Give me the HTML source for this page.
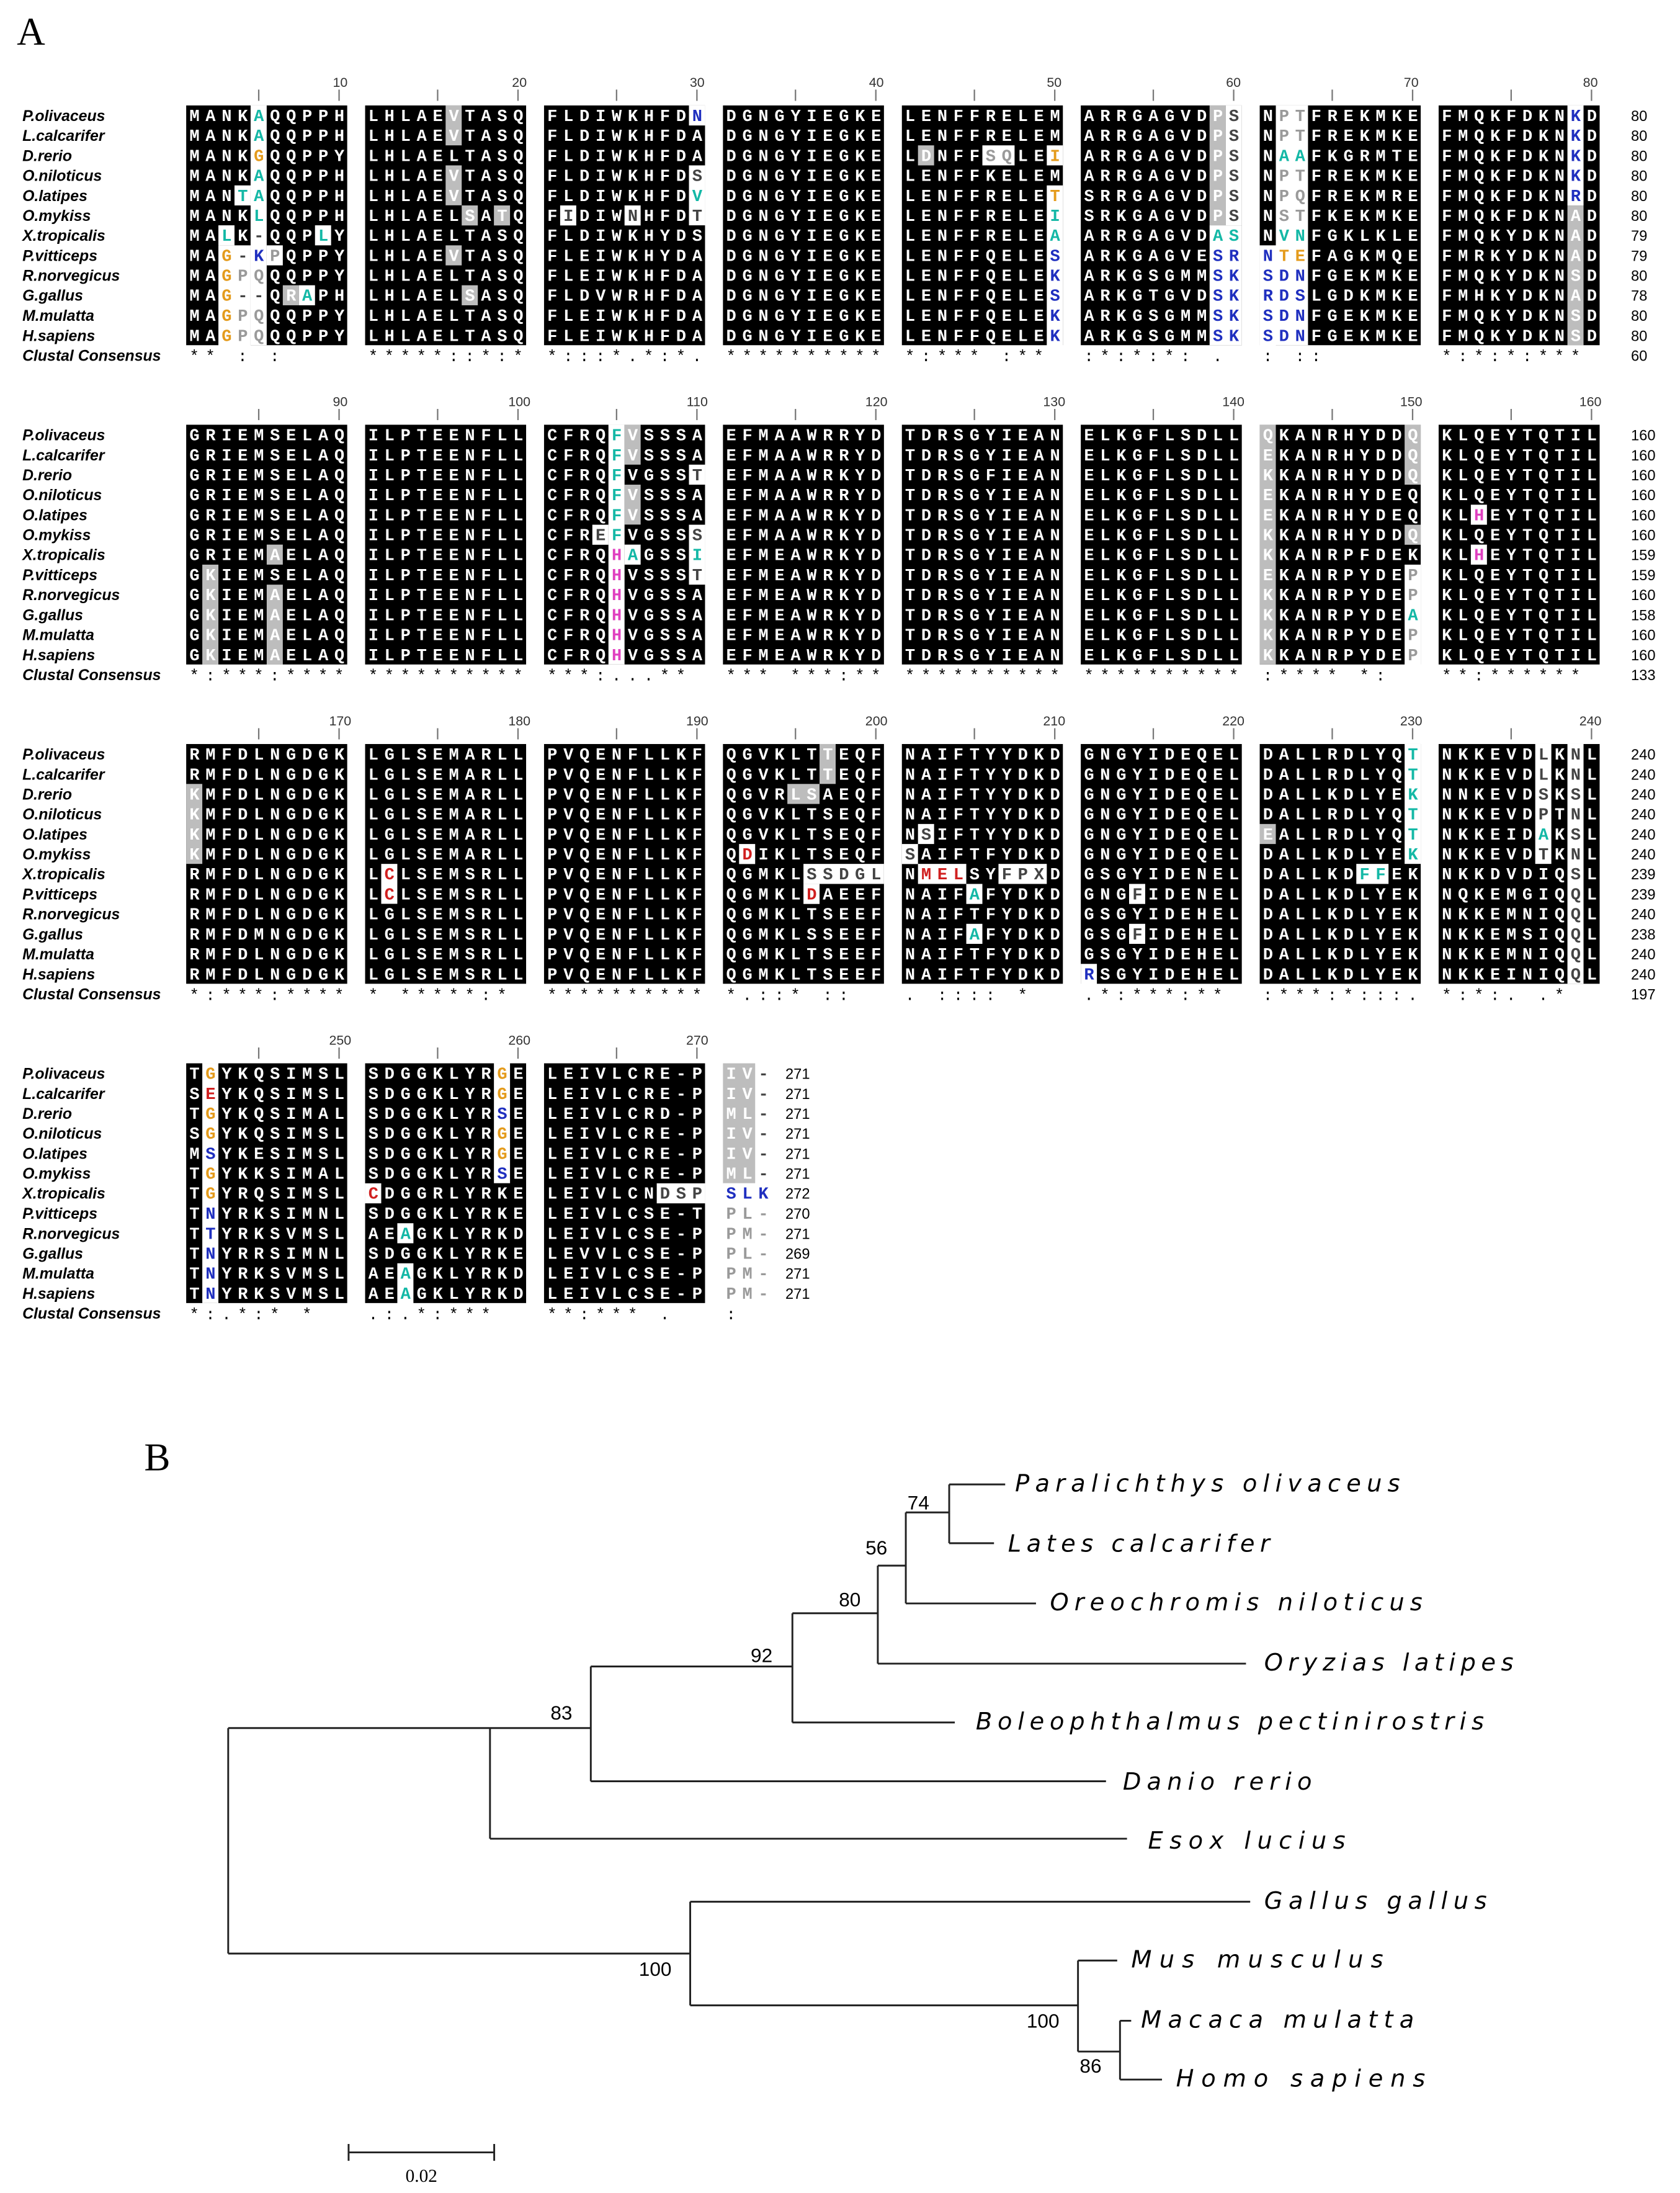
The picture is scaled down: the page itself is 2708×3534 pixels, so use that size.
<!DOCTYPE html>
<html><head><meta charset="utf-8"><style>
html,body{margin:0;padding:0;background:#fff}
svg{display:block}
.n{font:italic bold 11px "Liberation Sans",sans-serif;fill:#000}
.s{font:bold 12px "Liberation Mono",monospace;letter-spacing:4.3px;fill:#fff;white-space:pre}
.c{font:11.5px "Liberation Mono",monospace;letter-spacing:4.6px;fill:#000;white-space:pre}
.num{font:10.5px "Liberation Sans",sans-serif;fill:#000}
.rl{font:9.5px "Liberation Sans",sans-serif;fill:#333;text-anchor:middle}
.t{fill:#14b8a6}.o{fill:#e49b1c}.b{fill:#1f2fbf}.g{fill:#9a9a9a}.m{fill:#e040c0}.r{fill:#d02020}.d{fill:#444}
.tx{font:italic 17px "DejaVu Sans",sans-serif;fill:#000}
.bs{font:14px "Liberation Sans",sans-serif;fill:#000;text-anchor:middle}
</style></head><body>
<svg xmlns="http://www.w3.org/2000/svg" width="2708" height="3534" viewBox="0 0 1200 1566" preserveAspectRatio="none">
<rect width="1200" height="1566" fill="#fff"/>
<text x="12" y="32" style="font:28px 'Liberation Serif',serif">A</text>
<text x="103" y="1050" style="font:28px 'Liberation Serif',serif">B</text>

<g fill="#000">
<rect x="133" y="75.3" width="115" height="171.2"/><rect x="260.8" y="75.3" width="115" height="171.2"/><rect x="388.6" y="75.3" width="115" height="171.2"/><rect x="516.4" y="75.3" width="115" height="171.2"/><rect x="644.2" y="75.3" width="115" height="171.2"/><rect x="772" y="75.3" width="115" height="171.2"/><rect x="899.8" y="75.3" width="115" height="171.2"/><rect x="1027.6" y="75.3" width="115" height="171.2"/>
<rect x="133" y="303.3" width="115" height="171.2"/><rect x="260.8" y="303.3" width="115" height="171.2"/><rect x="388.6" y="303.3" width="115" height="171.2"/><rect x="516.4" y="303.3" width="115" height="171.2"/><rect x="644.2" y="303.3" width="115" height="171.2"/><rect x="772" y="303.3" width="115" height="171.2"/><rect x="899.8" y="303.3" width="115" height="171.2"/><rect x="1027.6" y="303.3" width="115" height="171.2"/>
<rect x="133" y="531.3" width="115" height="171.2"/><rect x="260.8" y="531.3" width="115" height="171.2"/><rect x="388.6" y="531.3" width="115" height="171.2"/><rect x="516.4" y="531.3" width="115" height="171.2"/><rect x="644.2" y="531.3" width="115" height="171.2"/><rect x="772" y="531.3" width="115" height="171.2"/><rect x="899.8" y="531.3" width="115" height="171.2"/><rect x="1027.6" y="531.3" width="115" height="171.2"/>
<rect x="133" y="759.3" width="115" height="171.2"/><rect x="260.8" y="759.3" width="115" height="171.2"/><rect x="388.6" y="759.3" width="115" height="171.2"/>
</g>
<g fill="#bdbdbd">
<rect x="202" y="203.7" width="11.5" height="14.3"/>
<rect x="318.3" y="75.3" width="11.5" height="28.5"/><rect x="318.3" y="118.1" width="11.5" height="28.5"/><rect x="318.3" y="175.2" width="11.5" height="14.3"/>
<rect x="329.8" y="146.7" width="11.5" height="14.3"/><rect x="352.8" y="146.7" width="11.5" height="14.3"/><rect x="329.8" y="203.7" width="11.5" height="14.3"/>
<rect x="655.7" y="103.8" width="11.5" height="14.3"/>
<rect x="864" y="75.3" width="11.5" height="85.6"/>
<rect x="1119.6" y="146.7" width="11.5" height="99.9"/>
<rect x="144.5" y="403.2" width="11.5" height="71.4"/><rect x="190.5" y="388.9" width="11.5" height="14.3"/><rect x="190.5" y="417.5" width="11.5" height="57.1"/>
<rect x="446.1" y="303.3" width="11.5" height="28.5"/><rect x="446.1" y="346.1" width="11.5" height="28.5"/>
<rect x="899.8" y="303.3" width="11.5" height="171.2"/>
<rect x="1003.3" y="303.3" width="11.5" height="42.8"/><rect x="1003.3" y="374.7" width="11.5" height="14.3"/>
<rect x="133" y="559.8" width="11.5" height="57.1"/>
<rect x="585.4" y="531.3" width="11.5" height="28.5"/><rect x="562.4" y="559.8" width="23" height="14.3"/>
<rect x="899.8" y="588.4" width="11.5" height="14.3"/>
<rect x="516.4" y="759.3" width="23" height="85.6"/>
</g>
<g fill="#fff">
<rect x="179" y="75.3" width="11.5" height="171.2"/><rect x="156" y="175.2" width="23" height="71.4"/>
<rect x="156" y="160.9" width="11.5" height="14.3"/><rect x="225" y="160.9" width="11.5" height="14.3"/>
<rect x="167.5" y="132.4" width="11.5" height="14.3"/><rect x="190.5" y="175.2" width="11.5" height="14.3"/><rect x="213.5" y="203.7" width="11.5" height="14.3"/>
<rect x="492.1" y="75.3" width="11.5" height="14.3"/><rect x="492.1" y="118.1" width="11.5" height="42.8"/>
<rect x="400.1" y="146.7" width="11.5" height="14.3"/><rect x="446.1" y="146.7" width="11.5" height="14.3"/>
<rect x="747.7" y="103.8" width="11.5" height="14.3"/><rect x="747.7" y="132.4" width="11.5" height="114.2"/><rect x="701.7" y="103.8" width="23" height="14.3"/>
<rect x="875.5" y="75.3" width="11.5" height="85.6"/><rect x="864" y="160.9" width="23" height="85.6"/>
<rect x="911.3" y="75.3" width="23" height="171.2"/><rect x="899.8" y="175.2" width="11.5" height="71.4"/>
<rect x="1119.6" y="75.3" width="11.5" height="71.4"/>
<rect x="434.6" y="303.3" width="11.5" height="171.2"/><rect x="423.1" y="374.7" width="11.5" height="14.3"/>
<rect x="492.1" y="331.8" width="11.5" height="14.3"/><rect x="492.1" y="374.7" width="11.5" height="42.8"/><rect x="446.1" y="388.9" width="11.5" height="14.3"/>
<rect x="1003.3" y="403.2" width="11.5" height="71.4"/>
<rect x="1050.6" y="360.4" width="11.5" height="14.3"/><rect x="1050.6" y="388.9" width="11.5" height="14.3"/>
<rect x="272.3" y="616.9" width="11.5" height="28.5"/>
<rect x="527.9" y="602.7" width="11.5" height="14.3"/><rect x="573.9" y="616.9" width="57.5" height="14.3"/><rect x="573.9" y="631.2" width="11.5" height="14.3"/>
<rect x="655.7" y="616.9" width="34.5" height="14.3"/><rect x="713.2" y="616.9" width="34.5" height="14.3"/>
<rect x="690.2" y="631.2" width="11.5" height="14.3"/><rect x="690.2" y="659.7" width="11.5" height="14.3"/>
<rect x="655.7" y="588.4" width="11.5" height="14.3"/><rect x="644.2" y="602.7" width="11.5" height="14.3"/>
<rect x="772" y="688.3" width="11.5" height="14.3"/><rect x="806.5" y="631.2" width="11.5" height="14.3"/><rect x="806.5" y="659.7" width="11.5" height="14.3"/>
<rect x="1003.3" y="531.3" width="11.5" height="85.6"/><rect x="968.8" y="616.9" width="23" height="14.3"/>
<rect x="1119.6" y="531.3" width="11.5" height="171.2"/><rect x="1096.6" y="531.3" width="11.5" height="85.6"/>
<rect x="144.5" y="759.3" width="11.5" height="171.2"/>
<rect x="352.8" y="759.3" width="11.5" height="85.6"/><rect x="260.8" y="845" width="11.5" height="14.3"/>
<rect x="283.8" y="873.5" width="11.5" height="14.3"/><rect x="283.8" y="902.1" width="11.5" height="28.5"/>
<rect x="469.1" y="845" width="34.5" height="14.3"/>
</g>

<g stroke="#777" stroke-width="1">
<path d="M184.8 64V72M242.2 64V72M312.6 64V72M370 64V72M440.4 64V72M497.8 64V72M568.2 64V72M625.6 64V72M696 64V72M753.4 64V72M823.8 64V72M881.2 64V72M951.6 64V72M1009 64V72M1079.4 64V72M1136.8 64V72"/>
<path d="M184.8 292V300M242.2 292V300M312.6 292V300M370 292V300M440.4 292V300M497.8 292V300M568.2 292V300M625.6 292V300M696 292V300M753.4 292V300M823.8 292V300M881.2 292V300M951.6 292V300M1009 292V300M1079.4 292V300M1136.8 292V300"/>
<path d="M184.8 520V528M242.2 520V528M312.6 520V528M370 520V528M440.4 520V528M497.8 520V528M568.2 520V528M625.6 520V528M696 520V528M753.4 520V528M823.8 520V528M881.2 520V528M951.6 520V528M1009 520V528M1079.4 520V528M1136.8 520V528"/>
<path d="M184.8 748V756M242.2 748V756M312.6 748V756M370 748V756M440.4 748V756M497.8 748V756"/>
</g>
<g class="rl">
<text x="243" y="62" class="rl">10</text><text x="371" y="62" class="rl">20</text><text x="498" y="62" class="rl">30</text><text x="626" y="62" class="rl">40</text><text x="753" y="62" class="rl">50</text><text x="881" y="62" class="rl">60</text><text x="1008" y="62" class="rl">70</text><text x="1136" y="62" class="rl">80</text>
<text x="243" y="290" class="rl">90</text><text x="371" y="290" class="rl">100</text><text x="498" y="290" class="rl">110</text><text x="626" y="290" class="rl">120</text><text x="753" y="290" class="rl">130</text><text x="881" y="290" class="rl">140</text><text x="1008" y="290" class="rl">150</text><text x="1136" y="290" class="rl">160</text>
<text x="243" y="518" class="rl">170</text><text x="371" y="518" class="rl">180</text><text x="498" y="518" class="rl">190</text><text x="626" y="518" class="rl">200</text><text x="753" y="518" class="rl">210</text><text x="881" y="518" class="rl">220</text><text x="1008" y="518" class="rl">230</text><text x="1136" y="518" class="rl">240</text>
<text x="243" y="746" class="rl">250</text><text x="371" y="746" class="rl">260</text><text x="498" y="746" class="rl">270</text>
</g>

<g class="n">
<text x="16" y="86.4">P.olivaceus</text><text x="16" y="100.7">L.calcarifer</text><text x="16" y="114.9">D.rerio</text><text x="16" y="129.2">O.niloticus</text><text x="16" y="143.5">O.latipes</text><text x="16" y="157.8">O.mykiss</text><text x="16" y="172">X.tropicalis</text><text x="16" y="186.3">P.vitticeps</text><text x="16" y="200.6">R.norvegicus</text><text x="16" y="214.8">G.gallus</text><text x="16" y="229.1">M.mulatta</text><text x="16" y="243.4">H.sapiens</text><text x="16" y="257.6">Clustal Consensus</text>
<text x="16" y="314.4">P.olivaceus</text><text x="16" y="328.7">L.calcarifer</text><text x="16" y="342.9">D.rerio</text><text x="16" y="357.2">O.niloticus</text><text x="16" y="371.5">O.latipes</text><text x="16" y="385.8">O.mykiss</text><text x="16" y="400">X.tropicalis</text><text x="16" y="414.3">P.vitticeps</text><text x="16" y="428.6">R.norvegicus</text><text x="16" y="442.8">G.gallus</text><text x="16" y="457.1">M.mulatta</text><text x="16" y="471.4">H.sapiens</text><text x="16" y="485.6">Clustal Consensus</text>
<text x="16" y="542.4">P.olivaceus</text><text x="16" y="556.7">L.calcarifer</text><text x="16" y="570.9">D.rerio</text><text x="16" y="585.2">O.niloticus</text><text x="16" y="599.5">O.latipes</text><text x="16" y="613.8">O.mykiss</text><text x="16" y="628">X.tropicalis</text><text x="16" y="642.3">P.vitticeps</text><text x="16" y="656.6">R.norvegicus</text><text x="16" y="670.8">G.gallus</text><text x="16" y="685.1">M.mulatta</text><text x="16" y="699.4">H.sapiens</text><text x="16" y="713.6">Clustal Consensus</text>
<text x="16" y="770.4">P.olivaceus</text><text x="16" y="784.7">L.calcarifer</text><text x="16" y="798.9">D.rerio</text><text x="16" y="813.2">O.niloticus</text><text x="16" y="827.5">O.latipes</text><text x="16" y="841.8">O.mykiss</text><text x="16" y="856">X.tropicalis</text><text x="16" y="870.3">P.vitticeps</text><text x="16" y="884.6">R.norvegicus</text><text x="16" y="898.8">G.gallus</text><text x="16" y="913.1">M.mulatta</text><text x="16" y="927.4">H.sapiens</text><text x="16" y="941.6">Clustal Consensus</text>
</g>

<g class="s">
<text x="135.3" y="86.4">MANK<tspan class="t">A</tspan>QQPPH</text><text x="263.1" y="86.4">LHLAEVTASQ</text><text x="390.9" y="86.4">FLDIWKHFD<tspan class="b">N</tspan></text><text x="518.7" y="86.4">DGNGYIEGKE</text><text x="646.5" y="86.4">LENFFRELEM</text><text x="774.3" y="86.4">ARRGAGVDP<tspan class="d">S</tspan></text><text x="902.1" y="86.4">N<tspan class="g">PT</tspan>FREKMKE</text><text x="1029.9" y="86.4">FMQKFDKN<tspan class="b">K</tspan>D</text>
<text x="135.3" y="100.7">MANK<tspan class="t">A</tspan>QQPPH</text><text x="263.1" y="100.7">LHLAEVTASQ</text><text x="390.9" y="100.7">FLDIWKHFDA</text><text x="518.7" y="100.7">DGNGYIEGKE</text><text x="646.5" y="100.7">LENFFRELEM</text><text x="774.3" y="100.7">ARRGAGVDP<tspan class="d">S</tspan></text><text x="902.1" y="100.7">N<tspan class="g">PT</tspan>FREKMKE</text><text x="1029.9" y="100.7">FMQKFDKN<tspan class="b">K</tspan>D</text>
<text x="135.3" y="114.9">MANK<tspan class="o">G</tspan>QQPPY</text><text x="263.1" y="114.9">LHLAELTASQ</text><text x="390.9" y="114.9">FLDIWKHFDA</text><text x="518.7" y="114.9">DGNGYIEGKE</text><text x="646.5" y="114.9">LDNFF<tspan class="g">SQ</tspan>LE<tspan class="o">I</tspan></text><text x="774.3" y="114.9">ARRGAGVDP<tspan class="d">S</tspan></text><text x="902.1" y="114.9">N<tspan class="t">AA</tspan>FKGRMTE</text><text x="1029.9" y="114.9">FMQKFDKN<tspan class="b">K</tspan>D</text>
<text x="135.3" y="129.2">MANK<tspan class="t">A</tspan>QQPPH</text><text x="263.1" y="129.2">LHLAEVTASQ</text><text x="390.9" y="129.2">FLDIWKHFD<tspan class="d">S</tspan></text><text x="518.7" y="129.2">DGNGYIEGKE</text><text x="646.5" y="129.2">LENFFKELEM</text><text x="774.3" y="129.2">ARRGAGVDP<tspan class="d">S</tspan></text><text x="902.1" y="129.2">N<tspan class="g">PT</tspan>FREKMKE</text><text x="1029.9" y="129.2">FMQKFDKN<tspan class="b">K</tspan>D</text>
<text x="135.3" y="143.5">MAN<tspan class="t">TA</tspan>QQPPH</text><text x="263.1" y="143.5">LHLAEVTASQ</text><text x="390.9" y="143.5">FLDIWKHFD<tspan class="t">V</tspan></text><text x="518.7" y="143.5">DGNGYIEGKE</text><text x="646.5" y="143.5">LENFFRELE<tspan class="o">T</tspan></text><text x="774.3" y="143.5">SRRGAGVDP<tspan class="d">S</tspan></text><text x="902.1" y="143.5">N<tspan class="g">PQ</tspan>FREKMRE</text><text x="1029.9" y="143.5">FMQKFDKN<tspan class="b">R</tspan>D</text>
<text x="135.3" y="157.8">MANK<tspan class="t">L</tspan>QQPPH</text><text x="263.1" y="157.8">LHLAELSATQ</text><text x="390.9" y="157.8">F<tspan class="d">I</tspan>DIW<tspan class="d">N</tspan>HFD<tspan class="d">T</tspan></text><text x="518.7" y="157.8">DGNGYIEGKE</text><text x="646.5" y="157.8">LENFFRELE<tspan class="t">I</tspan></text><text x="774.3" y="157.8">SRKGAGVDP<tspan class="d">S</tspan></text><text x="902.1" y="157.8">N<tspan class="g">ST</tspan>FKEKMKE</text><text x="1029.9" y="157.8">FMQKFDKNAD</text>
<text x="135.3" y="172">MA<tspan class="t">L</tspan>K<tspan class="d">-</tspan>QQP<tspan class="t">L</tspan>Y</text><text x="263.1" y="172">LHLAELTASQ</text><text x="390.9" y="172">FLDIWKHYDS</text><text x="518.7" y="172">DGNGYIEGKE</text><text x="646.5" y="172">LENFFRELE<tspan class="t">A</tspan></text><text x="774.3" y="172">ARRGAGVD<tspan class="t">AS</tspan></text><text x="902.1" y="172">N<tspan class="t">VN</tspan>FGKLKLE</text><text x="1029.9" y="172">FMQKYDKNAD</text>
<text x="135.3" y="186.3">MA<tspan class="o">G</tspan><tspan class="d">-</tspan><tspan class="b">K</tspan><tspan class="g">P</tspan>QPPY</text><text x="263.1" y="186.3">LHLAEVTASQ</text><text x="390.9" y="186.3">FLEIWKHYDA</text><text x="518.7" y="186.3">DGNGYIEGKE</text><text x="646.5" y="186.3">LENFFQELE<tspan class="b">S</tspan></text><text x="774.3" y="186.3">ARKGAGVE<tspan class="b">SR</tspan></text><text x="902.1" y="186.3"><tspan class="b">N</tspan><tspan class="o">TE</tspan>FAGKMQE</text><text x="1029.9" y="186.3">FMRKYDKNAD</text>
<text x="135.3" y="200.6">MA<tspan class="o">G</tspan><tspan class="g">PQ</tspan>QQPPY</text><text x="263.1" y="200.6">LHLAELTASQ</text><text x="390.9" y="200.6">FLEIWKHFDA</text><text x="518.7" y="200.6">DGNGYIEGKE</text><text x="646.5" y="200.6">LENFFQELE<tspan class="b">K</tspan></text><text x="774.3" y="200.6">ARKGSGMM<tspan class="b">SK</tspan></text><text x="902.1" y="200.6"><tspan class="b">SDN</tspan>FGEKMKE</text><text x="1029.9" y="200.6">FMQKYDKNSD</text>
<text x="135.3" y="214.8">MA<tspan class="o">G</tspan><tspan class="d">--</tspan>QR<tspan class="t">A</tspan>PH</text><text x="263.1" y="214.8">LHLAELSASQ</text><text x="390.9" y="214.8">FLDVWRHFDA</text><text x="518.7" y="214.8">DGNGYIEGKE</text><text x="646.5" y="214.8">LENFFQELE<tspan class="b">S</tspan></text><text x="774.3" y="214.8">ARKGTGVD<tspan class="b">SK</tspan></text><text x="902.1" y="214.8"><tspan class="b">RDS</tspan>LGDKMKE</text><text x="1029.9" y="214.8">FMHKYDKNAD</text>
<text x="135.3" y="229.1">MA<tspan class="o">G</tspan><tspan class="g">PQ</tspan>QQPPY</text><text x="263.1" y="229.1">LHLAELTASQ</text><text x="390.9" y="229.1">FLEIWKHFDA</text><text x="518.7" y="229.1">DGNGYIEGKE</text><text x="646.5" y="229.1">LENFFQELE<tspan class="b">K</tspan></text><text x="774.3" y="229.1">ARKGSGMM<tspan class="b">SK</tspan></text><text x="902.1" y="229.1"><tspan class="b">SDN</tspan>FGEKMKE</text><text x="1029.9" y="229.1">FMQKYDKNSD</text>
<text x="135.3" y="243.4">MA<tspan class="o">G</tspan><tspan class="g">PQ</tspan>QQPPY</text><text x="263.1" y="243.4">LHLAELTASQ</text><text x="390.9" y="243.4">FLEIWKHFDA</text><text x="518.7" y="243.4">DGNGYIEGKE</text><text x="646.5" y="243.4">LENFFQELE<tspan class="b">K</tspan></text><text x="774.3" y="243.4">ARKGSGMM<tspan class="b">SK</tspan></text><text x="902.1" y="243.4"><tspan class="b">SDN</tspan>FGEKMKE</text><text x="1029.9" y="243.4">FMQKYDKNSD</text>

<text x="135.3" y="314.4">GRIEMSELAQ</text><text x="263.1" y="314.4">ILPTEENFLL</text><text x="390.9" y="314.4">CFRQ<tspan class="t">F</tspan>VSSSA</text><text x="518.7" y="314.4">EFMAAWRRYD</text><text x="646.5" y="314.4">TDRSGYIEAN</text><text x="774.3" y="314.4">ELKGFLSDLL</text><text x="902.1" y="314.4">QKANRHYDDQ</text><text x="1029.9" y="314.4">KLQEYTQTIL</text>
<text x="135.3" y="328.7">GRIEMSELAQ</text><text x="263.1" y="328.7">ILPTEENFLL</text><text x="390.9" y="328.7">CFRQ<tspan class="t">F</tspan>VSSSA</text><text x="518.7" y="328.7">EFMAAWRRYD</text><text x="646.5" y="328.7">TDRSGYIEAN</text><text x="774.3" y="328.7">ELKGFLSDLL</text><text x="902.1" y="328.7">EKANRHYDDQ</text><text x="1029.9" y="328.7">KLQEYTQTIL</text>
<text x="135.3" y="342.9">GRIEMSELAQ</text><text x="263.1" y="342.9">ILPTEENFLL</text><text x="390.9" y="342.9">CFRQ<tspan class="t">F</tspan>VGSS<tspan class="d">T</tspan></text><text x="518.7" y="342.9">EFMAAWRKYD</text><text x="646.5" y="342.9">TDRSGFIEAN</text><text x="774.3" y="342.9">ELKGFLSDLL</text><text x="902.1" y="342.9">KKANRHYDDQ</text><text x="1029.9" y="342.9">KLQEYTQTIL</text>
<text x="135.3" y="357.2">GRIEMSELAQ</text><text x="263.1" y="357.2">ILPTEENFLL</text><text x="390.9" y="357.2">CFRQ<tspan class="t">F</tspan>VSSSA</text><text x="518.7" y="357.2">EFMAAWRRYD</text><text x="646.5" y="357.2">TDRSGYIEAN</text><text x="774.3" y="357.2">ELKGFLSDLL</text><text x="902.1" y="357.2">EKANRHYDEQ</text><text x="1029.9" y="357.2">KLQEYTQTIL</text>
<text x="135.3" y="371.5">GRIEMSELAQ</text><text x="263.1" y="371.5">ILPTEENFLL</text><text x="390.9" y="371.5">CFRQ<tspan class="t">F</tspan>VSSSA</text><text x="518.7" y="371.5">EFMAAWRKYD</text><text x="646.5" y="371.5">TDRSGYIEAN</text><text x="774.3" y="371.5">ELKGFLSDLL</text><text x="902.1" y="371.5">EKANRHYDEQ</text><text x="1029.9" y="371.5">KL<tspan class="m">H</tspan>EYTQTIL</text>
<text x="135.3" y="385.8">GRIEMSELAQ</text><text x="263.1" y="385.8">ILPTEENFLL</text><text x="390.9" y="385.8">CFR<tspan class="d">E</tspan><tspan class="t">F</tspan>VGSS<tspan class="d">S</tspan></text><text x="518.7" y="385.8">EFMAAWRKYD</text><text x="646.5" y="385.8">TDRSGYIEAN</text><text x="774.3" y="385.8">ELKGFLSDLL</text><text x="902.1" y="385.8">KKANRHYDDQ</text><text x="1029.9" y="385.8">KLQEYTQTIL</text>
<text x="135.3" y="400">GRIEMAELAQ</text><text x="263.1" y="400">ILPTEENFLL</text><text x="390.9" y="400">CFRQ<tspan class="m">H</tspan><tspan class="t">A</tspan>GSS<tspan class="t">I</tspan></text><text x="518.7" y="400">EFMEAWRKYD</text><text x="646.5" y="400">TDRSGYIEAN</text><text x="774.3" y="400">ELKGFLSDLL</text><text x="902.1" y="400">KKANRPFDEK</text><text x="1029.9" y="400">KL<tspan class="m">H</tspan>EYTQTIL</text>
<text x="135.3" y="414.3">GKIEMSELAQ</text><text x="263.1" y="414.3">ILPTEENFLL</text><text x="390.9" y="414.3">CFRQ<tspan class="m">H</tspan>VSSS<tspan class="d">T</tspan></text><text x="518.7" y="414.3">EFMEAWRKYD</text><text x="646.5" y="414.3">TDRSGYIEAN</text><text x="774.3" y="414.3">ELKGFLSDLL</text><text x="902.1" y="414.3">EKANRPYDE<tspan class="g">P</tspan></text><text x="1029.9" y="414.3">KLQEYTQTIL</text>
<text x="135.3" y="428.6">GKIEMAELAQ</text><text x="263.1" y="428.6">ILPTEENFLL</text><text x="390.9" y="428.6">CFRQ<tspan class="m">H</tspan>VGSSA</text><text x="518.7" y="428.6">EFMEAWRKYD</text><text x="646.5" y="428.6">TDRSGYIEAN</text><text x="774.3" y="428.6">ELKGFLSDLL</text><text x="902.1" y="428.6">KKANRPYDE<tspan class="g">P</tspan></text><text x="1029.9" y="428.6">KLQEYTQTIL</text>
<text x="135.3" y="442.8">GKIEMAELAQ</text><text x="263.1" y="442.8">ILPTEENFLL</text><text x="390.9" y="442.8">CFRQ<tspan class="m">H</tspan>VGSSA</text><text x="518.7" y="442.8">EFMEAWRKYD</text><text x="646.5" y="442.8">TDRSGYIEAN</text><text x="774.3" y="442.8">ELKGFLSDLL</text><text x="902.1" y="442.8">KKANRPYDE<tspan class="t">A</tspan></text><text x="1029.9" y="442.8">KLQEYTQTIL</text>
<text x="135.3" y="457.1">GKIEMAELAQ</text><text x="263.1" y="457.1">ILPTEENFLL</text><text x="390.9" y="457.1">CFRQ<tspan class="m">H</tspan>VGSSA</text><text x="518.7" y="457.1">EFMEAWRKYD</text><text x="646.5" y="457.1">TDRSGYIEAN</text><text x="774.3" y="457.1">ELKGFLSDLL</text><text x="902.1" y="457.1">KKANRPYDE<tspan class="g">P</tspan></text><text x="1029.9" y="457.1">KLQEYTQTIL</text>
<text x="135.3" y="471.4">GKIEMAELAQ</text><text x="263.1" y="471.4">ILPTEENFLL</text><text x="390.9" y="471.4">CFRQ<tspan class="m">H</tspan>VGSSA</text><text x="518.7" y="471.4">EFMEAWRKYD</text><text x="646.5" y="471.4">TDRSGYIEAN</text><text x="774.3" y="471.4">ELKGFLSDLL</text><text x="902.1" y="471.4">KKANRPYDE<tspan class="g">P</tspan></text><text x="1029.9" y="471.4">KLQEYTQTIL</text>

<text x="135.3" y="542.4">RMFDLNGDGK</text><text x="263.1" y="542.4">LGLSEMARLL</text><text x="390.9" y="542.4">PVQENFLLKF</text><text x="518.7" y="542.4">QGVKLTTEQF</text><text x="646.5" y="542.4">NAIFTYYDKD</text><text x="774.3" y="542.4">GNGYIDEQEL</text><text x="902.1" y="542.4">DALLRDLYQ<tspan class="t">T</tspan></text><text x="1029.9" y="542.4">NKKEVD<tspan class="d">L</tspan>K<tspan class="d">N</tspan>L</text>
<text x="135.3" y="556.7">RMFDLNGDGK</text><text x="263.1" y="556.7">LGLSEMARLL</text><text x="390.9" y="556.7">PVQENFLLKF</text><text x="518.7" y="556.7">QGVKLTTEQF</text><text x="646.5" y="556.7">NAIFTYYDKD</text><text x="774.3" y="556.7">GNGYIDEQEL</text><text x="902.1" y="556.7">DALLRDLYQ<tspan class="t">T</tspan></text><text x="1029.9" y="556.7">NKKEVD<tspan class="d">L</tspan>K<tspan class="d">N</tspan>L</text>
<text x="135.3" y="570.9">KMFDLNGDGK</text><text x="263.1" y="570.9">LGLSEMARLL</text><text x="390.9" y="570.9">PVQENFLLKF</text><text x="518.7" y="570.9">QGVRLSAEQF</text><text x="646.5" y="570.9">NAIFTYYDKD</text><text x="774.3" y="570.9">GNGYIDEQEL</text><text x="902.1" y="570.9">DALLKDLYE<tspan class="t">K</tspan></text><text x="1029.9" y="570.9">NNKEVD<tspan class="d">S</tspan>K<tspan class="d">S</tspan>L</text>
<text x="135.3" y="585.2">KMFDLNGDGK</text><text x="263.1" y="585.2">LGLSEMARLL</text><text x="390.9" y="585.2">PVQENFLLKF</text><text x="518.7" y="585.2">QGVKLTSEQF</text><text x="646.5" y="585.2">NAIFTYYDKD</text><text x="774.3" y="585.2">GNGYIDEQEL</text><text x="902.1" y="585.2">DALLRDLYQ<tspan class="t">T</tspan></text><text x="1029.9" y="585.2">NKKEVD<tspan class="d">P</tspan>T<tspan class="d">N</tspan>L</text>
<text x="135.3" y="599.5">KMFDLNGDGK</text><text x="263.1" y="599.5">LGLSEMARLL</text><text x="390.9" y="599.5">PVQENFLLKF</text><text x="518.7" y="599.5">QGVKLTSEQF</text><text x="646.5" y="599.5">N<tspan class="d">S</tspan>IFTYYDKD</text><text x="774.3" y="599.5">GNGYIDEQEL</text><text x="902.1" y="599.5">EALLRDLYQ<tspan class="t">T</tspan></text><text x="1029.9" y="599.5">NKKEID<tspan class="t">A</tspan>K<tspan class="d">S</tspan>L</text>
<text x="135.3" y="613.8">KMFDLNGDGK</text><text x="263.1" y="613.8">LGLSEMARLL</text><text x="390.9" y="613.8">PVQENFLLKF</text><text x="518.7" y="613.8">Q<tspan class="r">D</tspan>IKLTSEQF</text><text x="646.5" y="613.8"><tspan class="d">S</tspan>AIFTFYDKD</text><text x="774.3" y="613.8">GNGYIDEQEL</text><text x="902.1" y="613.8">DALLKDLYE<tspan class="t">K</tspan></text><text x="1029.9" y="613.8">NKKEVD<tspan class="d">T</tspan>K<tspan class="d">N</tspan>L</text>
<text x="135.3" y="628">RMFDLNGDGK</text><text x="263.1" y="628">L<tspan class="r">C</tspan>LSEMSRLL</text><text x="390.9" y="628">PVQENFLLKF</text><text x="518.7" y="628">QGMKL<tspan class="d">SSDGL</tspan></text><text x="646.5" y="628">N<tspan class="r">MEL</tspan>SY<tspan class="d">FPX</tspan>D</text><text x="774.3" y="628">GSGYIDENEL</text><text x="902.1" y="628">DALLKD<tspan class="t">FF</tspan>EK</text><text x="1029.9" y="628">NKKDVDIQ<tspan class="d">S</tspan>L</text>
<text x="135.3" y="642.3">RMFDLNGDGK</text><text x="263.1" y="642.3">L<tspan class="r">C</tspan>LSEMSRLL</text><text x="390.9" y="642.3">PVQENFLLKF</text><text x="518.7" y="642.3">QGMKL<tspan class="r">D</tspan>AEEF</text><text x="646.5" y="642.3">NAIF<tspan class="t">A</tspan>FYDKD</text><text x="774.3" y="642.3">GNG<tspan class="d">F</tspan>IDENEL</text><text x="902.1" y="642.3">DALLKDLYEK</text><text x="1029.9" y="642.3">NQKEMGIQ<tspan class="d">Q</tspan>L</text>
<text x="135.3" y="656.6">RMFDLNGDGK</text><text x="263.1" y="656.6">LGLSEMSRLL</text><text x="390.9" y="656.6">PVQENFLLKF</text><text x="518.7" y="656.6">QGMKLTSEEF</text><text x="646.5" y="656.6">NAIFTFYDKD</text><text x="774.3" y="656.6">GSGYIDEHEL</text><text x="902.1" y="656.6">DALLKDLYEK</text><text x="1029.9" y="656.6">NKKEMNIQ<tspan class="d">Q</tspan>L</text>
<text x="135.3" y="670.8">RMFDMNGDGK</text><text x="263.1" y="670.8">LGLSEMSRLL</text><text x="390.9" y="670.8">PVQENFLLKF</text><text x="518.7" y="670.8">QGMKLSSEEF</text><text x="646.5" y="670.8">NAIF<tspan class="t">A</tspan>FYDKD</text><text x="774.3" y="670.8">GSG<tspan class="d">F</tspan>IDEHEL</text><text x="902.1" y="670.8">DALLKDLYEK</text><text x="1029.9" y="670.8">NKKEMSIQ<tspan class="d">Q</tspan>L</text>
<text x="135.3" y="685.1">RMFDLNGDGK</text><text x="263.1" y="685.1">LGLSEMSRLL</text><text x="390.9" y="685.1">PVQENFLLKF</text><text x="518.7" y="685.1">QGMKLTSEEF</text><text x="646.5" y="685.1">NAIFTFYDKD</text><text x="774.3" y="685.1">GSGYIDEHEL</text><text x="902.1" y="685.1">DALLKDLYEK</text><text x="1029.9" y="685.1">NKKEMNIQ<tspan class="d">Q</tspan>L</text>
<text x="135.3" y="699.4">RMFDLNGDGK</text><text x="263.1" y="699.4">LGLSEMSRLL</text><text x="390.9" y="699.4">PVQENFLLKF</text><text x="518.7" y="699.4">QGMKLTSEEF</text><text x="646.5" y="699.4">NAIFTFYDKD</text><text x="774.3" y="699.4"><tspan class="b">R</tspan>SGYIDEHEL</text><text x="902.1" y="699.4">DALLKDLYEK</text><text x="1029.9" y="699.4">NKKEINIQ<tspan class="d">Q</tspan>L</text>

<text x="135.3" y="770.4">T<tspan class="o">G</tspan>YKQSIMSL</text><text x="263.1" y="770.4">SDGGKLYR<tspan class="o">G</tspan>E</text><text x="390.9" y="770.4">LEIVLCRE-P</text><text x="518.7" y="770.4">IV<tspan class="d">-</tspan></text>
<text x="135.3" y="784.7">S<tspan class="r">E</tspan>YKQSIMSL</text><text x="263.1" y="784.7">SDGGKLYR<tspan class="o">G</tspan>E</text><text x="390.9" y="784.7">LEIVLCRE-P</text><text x="518.7" y="784.7">IV<tspan class="d">-</tspan></text>
<text x="135.3" y="798.9">T<tspan class="o">G</tspan>YKQSIMAL</text><text x="263.1" y="798.9">SDGGKLYR<tspan class="b">S</tspan>E</text><text x="390.9" y="798.9">LEIVLCRD-P</text><text x="518.7" y="798.9">ML<tspan class="d">-</tspan></text>
<text x="135.3" y="813.2">S<tspan class="o">G</tspan>YKQSIMSL</text><text x="263.1" y="813.2">SDGGKLYR<tspan class="o">G</tspan>E</text><text x="390.9" y="813.2">LEIVLCRE-P</text><text x="518.7" y="813.2">IV<tspan class="d">-</tspan></text>
<text x="135.3" y="827.5">M<tspan class="b">S</tspan>YKESIMSL</text><text x="263.1" y="827.5">SDGGKLYR<tspan class="o">G</tspan>E</text><text x="390.9" y="827.5">LEIVLCRE-P</text><text x="518.7" y="827.5">IV<tspan class="d">-</tspan></text>
<text x="135.3" y="841.8">T<tspan class="o">G</tspan>YKKSIMAL</text><text x="263.1" y="841.8">SDGGKLYR<tspan class="b">S</tspan>E</text><text x="390.9" y="841.8">LEIVLCRE-P</text><text x="518.7" y="841.8">ML<tspan class="d">-</tspan></text>
<text x="135.3" y="856">T<tspan class="o">G</tspan>YRQSIMSL</text><text x="263.1" y="856"><tspan class="r">C</tspan>DGGRLYRKE</text><text x="390.9" y="856">LEIVLCN<tspan class="d">DSP</tspan></text><text x="518.7" y="856"><tspan class="b">SLK</tspan></text>
<text x="135.3" y="870.3">T<tspan class="b">N</tspan>YRKSIMNL</text><text x="263.1" y="870.3">SDGGKLYRKE</text><text x="390.9" y="870.3">LEIVLCSE-T</text><text x="518.7" y="870.3"><tspan class="g">PL-</tspan></text>
<text x="135.3" y="884.6">T<tspan class="b">T</tspan>YRKSVMSL</text><text x="263.1" y="884.6">AE<tspan class="t">A</tspan>GKLYRKD</text><text x="390.9" y="884.6">LEIVLCSE-P</text><text x="518.7" y="884.6"><tspan class="g">PM-</tspan></text>
<text x="135.3" y="898.8">T<tspan class="b">N</tspan>YRRSIMNL</text><text x="263.1" y="898.8">SDGGKLYRKE</text><text x="390.9" y="898.8">LEVVLCSE-P</text><text x="518.7" y="898.8"><tspan class="g">PL-</tspan></text>
<text x="135.3" y="913.1">T<tspan class="b">N</tspan>YRKSVMSL</text><text x="263.1" y="913.1">AE<tspan class="t">A</tspan>GKLYRKD</text><text x="390.9" y="913.1">LEIVLCSE-P</text><text x="518.7" y="913.1"><tspan class="g">PM-</tspan></text>
<text x="135.3" y="927.4">T<tspan class="b">N</tspan>YRKSVMSL</text><text x="263.1" y="927.4">AE<tspan class="t">A</tspan>GKLYRKD</text><text x="390.9" y="927.4">LEIVLCSE-P</text><text x="518.7" y="927.4"><tspan class="g">PM-</tspan></text>
</g>

<g class="c">
<text x="135.3" y="258">**     : :</text><text x="263.1" y="258">*****::*:*</text><text x="390.9" y="258">*:::*.*:*.</text><text x="518.7" y="258">**********</text><text x="646.5" y="258">*:***  :**</text><text x="774.3" y="258">:*:*:*:  .</text><text x="902.1" y="258">    :  :: </text><text x="1029.9" y="258">*:*:*:***</text>
<text x="135.3" y="486">*:***:****</text><text x="263.1" y="486">**********</text><text x="390.9" y="486">***:...** </text><text x="518.7" y="486">*** ***:**</text><text x="646.5" y="486">**********</text><text x="774.3" y="486">**********</text><text x="902.1" y="486">:****  *: </text><text x="1029.9" y="486">**:******</text>
<text x="135.3" y="714">*:***:****</text><text x="263.1" y="714">*  *****:*</text><text x="390.9" y="714">**********</text><text x="518.7" y="714">*.::* ::  </text><text x="646.5" y="714">.  ::::  *</text><text x="774.3" y="714"> .*:***:**</text><text x="902.1" y="714">:***:*:::.</text><text x="1029.9" y="714">*:*:.   .*</text>
<text x="135.3" y="942"> *:.*:* *</text><text x="263.1" y="942">.:.*:***  </text><text x="390.9" y="942">**:*** .</text><text x="518.7" y="942"> :</text>
</g>

<g class="num">
<text x="1165" y="86.4">80</text><text x="1165" y="100.7">80</text><text x="1165" y="114.9">80</text><text x="1165" y="129.2">80</text><text x="1165" y="143.5">80</text><text x="1165" y="157.8">80</text><text x="1165" y="172">79</text><text x="1165" y="186.3">79</text><text x="1165" y="200.6">80</text><text x="1165" y="214.8">78</text><text x="1165" y="229.1">80</text><text x="1165" y="243.4">80</text><text x="1165" y="257.6">60</text>
<text x="1165" y="314.4">160</text><text x="1165" y="328.7">160</text><text x="1165" y="342.9">160</text><text x="1165" y="357.2">160</text><text x="1165" y="371.5">160</text><text x="1165" y="385.8">160</text><text x="1165" y="400">159</text><text x="1165" y="414.3">159</text><text x="1165" y="428.6">160</text><text x="1165" y="442.8">158</text><text x="1165" y="457.1">160</text><text x="1165" y="471.4">160</text><text x="1165" y="485.6">133</text>
<text x="1165" y="542.4">240</text><text x="1165" y="556.7">240</text><text x="1165" y="570.9">240</text><text x="1165" y="585.2">240</text><text x="1165" y="599.5">240</text><text x="1165" y="613.8">240</text><text x="1165" y="628">239</text><text x="1165" y="642.3">239</text><text x="1165" y="656.6">240</text><text x="1165" y="670.8">238</text><text x="1165" y="685.1">240</text><text x="1165" y="699.4">240</text><text x="1165" y="713.6">197</text>
<text x="561" y="770.4">271</text><text x="561" y="784.7">271</text><text x="561" y="798.9">271</text><text x="561" y="813.2">271</text><text x="561" y="827.5">271</text><text x="561" y="841.8">271</text><text x="561" y="856">272</text><text x="561" y="870.3">270</text><text x="561" y="884.6">271</text><text x="561" y="898.8">269</text><text x="561" y="913.1">271</text><text x="561" y="927.4">271</text>
</g>

<g stroke="#222" stroke-width="1.3" fill="none">
<path d="M163 1234V1395M163 1234H350M350 1234V1313M350 1234H422M422 1190V1272M422 1190H566M422 1272H790M350 1313H805"/>
<path d="M566 1152V1230M566 1152H627M566 1230H682M627 1118V1188M627 1118H647M627 1188H890M647 1080V1145M647 1080H678M647 1145H740M678 1060V1102M678 1060H718M678 1102H710"/>
<path d="M163 1395H493M493 1358V1432M493 1358H893M493 1432H770M770 1400V1465M770 1400H798M770 1465H800M800 1443V1485M800 1443H808M800 1485H830"/>
<path d="M249 1537H353M249 1531V1543M353 1531V1543"/>
</g>
<g class="tx">
<text x="725" y="1065" textLength="275" lengthAdjust="spacing">Paralichthys olivaceus</text>
<text x="720" y="1108" textLength="187" lengthAdjust="spacing">Lates calcarifer</text>
<text x="750" y="1150" textLength="266" lengthAdjust="spacing">Oreochromis niloticus</text>
<text x="903" y="1193" textLength="178" lengthAdjust="spacing">Oryzias latipes</text>
<text x="697" y="1235" textLength="363" lengthAdjust="spacing">Boleophthalmus pectinirostris</text>
<text x="802" y="1278" textLength="135" lengthAdjust="spacing">Danio rerio</text>
<text x="820" y="1320" textLength="141" lengthAdjust="spacing">Esox lucius</text>
<text x="903" y="1363" textLength="159" lengthAdjust="spacing">Gallus gallus</text>
<text x="808" y="1405" textLength="180" lengthAdjust="spacing">Mus musculus</text>
<text x="815" y="1448" textLength="195" lengthAdjust="spacing">Macaca mulatta</text>
<text x="840" y="1490" textLength="178" lengthAdjust="spacing">Homo sapiens</text>
</g>
<g class="bs">
<text x="656" y="1078">74</text><text x="626" y="1110">56</text><text x="607" y="1147">80</text><text x="544" y="1187">92</text><text x="401" y="1228">83</text><text x="468" y="1411">100</text><text x="745" y="1448">100</text><text x="779" y="1480">86</text>
</g>
<text x="301" y="1558" style="font:13px 'Liberation Serif',serif;text-anchor:middle">0.02</text>
</svg>
</body></html>
